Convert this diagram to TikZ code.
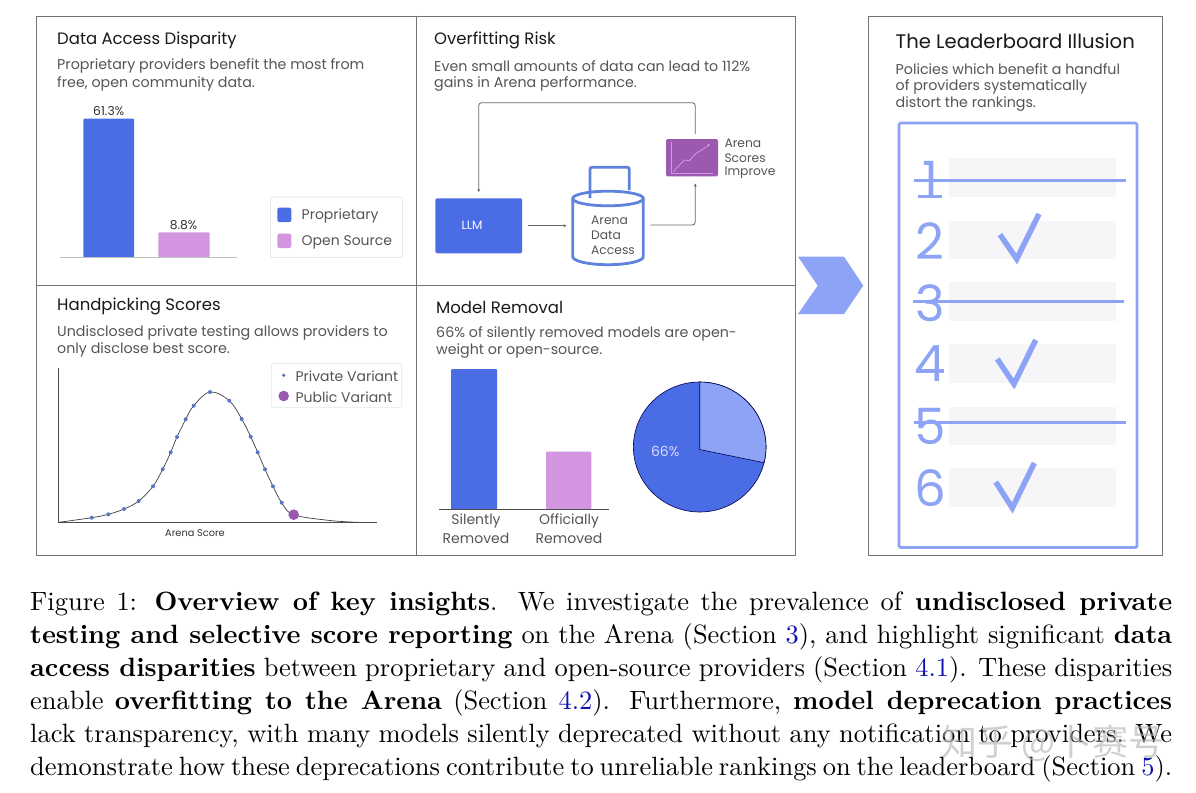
\documentclass[tikz,border=0pt]{standalone}
\usepackage{fontspec}
\setsansfont{Poppins}
\newfontfamily\capf{lmroman10-regular.otf}[BoldFont=lmroman10-bold.otf]
\newfontfamily\cjkf{Noto Sans CJK SC}
\usetikzlibrary{arrows.meta}
\definecolor{bluea}{HTML}{4A6DE5}
\definecolor{blueb}{HTML}{8DA3F5}
\definecolor{bluec}{HTML}{5F82DC}
\definecolor{pinka}{HTML}{D394E0}
\definecolor{purpa}{HTML}{9B59B0}
\definecolor{dotc}{HTML}{5B74C8}
\definecolor{graytxt}{HTML}{555555}
\definecolor{rowg}{HTML}{F6F6F8}
\definecolor{secblue}{HTML}{1010B0}
\tikzset{
  x=1pt,y=-1pt,
  panel/.style={draw=black!55,line width=.8pt},
  ttl/.style={anchor=west,inner sep=0pt,yshift=-1.5pt,font=\sffamily\fontsize{16.5}{18}\selectfont,text=black!90},
  sub/.style={anchor=west,inner sep=0pt,yshift=-1.5pt,font=\sffamily\fontsize{14.25}{17}\selectfont,text=graytxt},
  lab/.style={inner sep=0pt,yshift=-1.2pt,font=\sffamily\fontsize{14}{17}\selectfont,text=graytxt},
  small/.style={inner sep=0pt,yshift=-1pt,font=\sffamily\fontsize{12.3}{15}\selectfont,text=black!80},
  legbox/.style={draw=black!12,line width=.6pt,rounded corners=2pt},
  conn/.style={draw=black!60,line width=.8pt,rounded corners=3pt},
  tip/.style={-{Latex[length=3pt,width=3pt]}},
  row/.style={fill=rowg},
  strike/.style={draw=blueb,line width=3pt},
  chk/.style={draw=blueb,line width=5.5pt,line join=miter},
  num/.style={inner sep=0pt,font=\sffamily\fontsize{50}{50}\selectfont,text=blueb},
  captxt/.style={anchor=base west,inner sep=0pt,font=\capf\fontsize{26.45}{33}\selectfont,text=black}
}
\newcommand{\capline}[1]{\makebox[1142pt][s]{#1}}
\begin{document}
\begin{tikzpicture}
\useasboundingbox[fill=white] (0,0) rectangle (1196,792);
% panels
\draw[panel] (36.5,16) rectangle (795.5,555);
\draw[panel] (416,16) -- (416,555);
\draw[panel] (36.5,285) -- (795.5,285);
\draw[panel] (868,16) rectangle (1162,555);
% chevron
\fill[blueb] (798,256.7) -- (844,256.7) -- (863.3,285.6) -- (844,314) -- (798,314) -- (817.7,285.6) -- cycle;
% Panel 1
\node[ttl] (t1) at (57,39) {Data Access Disparity};
\node[sub] (s1a) at (57,64.5) {Proprietary providers benefit the most from};
\node[sub] (s1b) at (57,82) {free, open community data.};
\fill[bluea,rounded corners=1pt] (83.3,118.7) rectangle (134,257.3);
\fill[pinka,rounded corners=1pt] (158.3,232.3) rectangle (209.7,257.3);
\draw[black!25,line width=.6pt] (60,257.3) -- (236.7,257.3);
\node[small] (v1) at (108.7,110.5) {61.3\%};
\node[small] (v2) at (183.5,224.5) {8.8\%};
\draw[legbox] (270.3,197) rectangle (402.3,257.3);
\fill[bluea,rounded corners=2pt] (277.3,207.7) rectangle (291.3,222);
\fill[pinka,rounded corners=2pt] (277.3,233.7) rectangle (291.3,248);
\node[lab,anchor=west] (l1) at (301.5,214.7) {Proprietary};
\node[lab,anchor=west] (l2) at (301.5,241) {Open Source};
% Panel 2
\node[ttl] (t2) at (434,39) {Overfitting Risk};
\node[sub] (s2a) at (434,64.5) {Even small amounts of data can lead to 112\%};
\node[sub] (s2b) at (434,82) {gains in Arena performance.};
\node[fill=bluea,rounded corners=1.5pt,minimum width=86.7pt,minimum height=55pt,inner sep=0pt] (llm) at (478.7,225.8) {};
\node[inner sep=0pt,text=white,font=\sffamily\fontsize{12}{15}\selectfont] (llmt) at (472,225.7) {LLM};
% cylinder
\draw[bluec,line width=2.8pt,fill=white] (572.7,198.5) -- (572.7,256.7) arc[start angle=180,end angle=360,x radius=35.3,y radius=-8] -- (643.3,198.5);
\draw[bluec,line width=2.8pt] (608,198.5) ellipse[x radius=35.3,y radius=7.3];
\draw[bluec,line width=2.8pt,rounded corners=2pt] (590,198) -- (590,167.3) -- (629.3,167.3) -- (629.3,190);
\node[small,anchor=west,text=graytxt] (c1) at (591,219.3) {Arena};
\node[small,anchor=west,text=graytxt] (c2) at (591,234.7) {Data};
\node[small,anchor=west,text=graytxt] (c3) at (591,249.7) {Access};
% chart
\node[fill=purpa,rounded corners=1.5pt,minimum width=52pt,minimum height=37.3pt,inner sep=0pt] (chart) at (692,157.7) {};
\draw[pinka,line width=.7pt] (671,141.7) -- (671,173.3) -- (712.7,173.3);
\draw[pinka,line width=.9pt] (673.3,171.7) -- (684.3,160) -- (689.3,160.7) -- (696,153.3) -- (702.7,149.3) -- (708.7,145);
\fill[pinka!60!white] (708.7,145) circle (1pt);
\node[small,anchor=west,text=graytxt] (a1) at (724.3,142.3) {Arena};
\node[small,anchor=west,text=graytxt] (a2) at (724.3,157.7) {Scores};
\node[small,anchor=west,text=graytxt] (a3) at (724.3,172.3) {Improve};
\coordinate (e1) at (528.3,225.7);
\coordinate (e2) at (566.7,225.7);
\coordinate (e3) at (650.3,225);
\coordinate (e4) at (695.3,183.3);
\coordinate (e5) at (695.3,134);
\coordinate (e6) at (478.7,192.3);
\draw[conn,tip] (e1) -- (e2);
\draw[conn,tip] (e3) -| (e4);
\draw[conn,tip] (e5) |- (587,102.7) -| (e6);
% Panel 3
\node[ttl] (t3) at (57,305) {Handpicking Scores};
\node[sub] (s3a) at (57,331) {Undisclosed private testing allows providers to};
\node[sub] (s3b) at (57,348.3) {only disclose best score.};
\draw[black!70,line width=.8pt] (58.7,368.3) -- (58.7,522.3) -- (376.7,522.3);
\draw[black!75,line width=.7pt] plot[smooth,tension=.6] coordinates {(58.7,522.3)(91.7,517.7)(108.3,514.3)(124,509)(138.7,501)(153,486.3)(162.7,469.3)(170.7,452.3)(177,437)(185.7,419.3)(193.7,405.7)(210,392)(229.3,400.7)(241.7,419)(250.7,436.7)(257.7,452.3)(265,469.3)(273,486.3)(281.7,502.7)(293.7,514.7)(330,520.5)(358,522.3)};
\foreach \p in {(91.7,517.7),(108.3,514.3),(124,509),(138.7,501),(153,486.3),(162.7,469.3),(170.7,452.3),(177,437),(185.7,419.3),(193.7,405.7),(210,392),(229.3,400.7),(241.7,419),(250.7,436.7),(257.7,452.3),(265,469.3),(273,486.3),(281.7,502.7)}
  \fill[dotc] \p circle (2pt);
\fill[purpa] (293.7,514.7) circle (5.3pt);
\node[small,font=\sffamily\fontsize{9.8}{12}\selectfont] (as) at (195,532.3) {Arena Score};
\draw[legbox,draw=black!10] (271.3,363.3) rectangle (401.7,407.3);
\fill[dotc] (283.7,375.3) circle (1.8pt);
\fill[purpa] (283.7,396) circle (5.3pt);
\node[lab,anchor=west] (p1) at (295.3,375.3) {Private Variant};
\node[lab,anchor=west] (p2) at (295.3,396) {Public Variant};
% Panel 4
\node[ttl] (t4) at (436,306) {Model Removal};
\node[sub] (s4a) at (436,332.3) {66\% of silently removed models are open-};
\node[sub] (s4b) at (436,349.7) {weight or open-source.};
\fill[bluea,rounded corners=1pt] (451,369) rectangle (497,509.3);
\fill[pinka,rounded corners=1pt] (546,451.7) rectangle (591.3,509.3);
\draw[black!70,line width=.7pt] (439.3,509.3) -- (609.3,509.3);
\node[lab] (b1) at (476,520) {Silently};
\node[lab] (b2) at (476,537) {Removed};
\node[lab] (b3) at (569,520) {Officially};
\node[lab] (b4) at (569,537) {Removed};
\draw[fill=bluea,draw=black!70!blue,line width=.6pt] (699.7,447) ellipse[x radius=66.3,y radius=65];
\draw[fill=blueb,draw=black!70!blue,line width=.6pt] (699.7,449.5) -- (699.7,382) arc[start angle=-90,end angle=14,x radius=66.3,y radius=65] -- cycle;
\node[inner sep=0pt,text=white!85!blue,font=\sffamily\fontsize{14}{17}\selectfont] (pct) at (665.3,451.7) {66\%};
% Right panel
\node[ttl,font=\sffamily\fontsize{19.6}{20}\selectfont] (t5) at (895.5,40) {The Leaderboard Illusion};
\node[sub] (s5a) at (895.5,67.5) {Policies which benefit a handful};
\node[sub] (s5b) at (895.5,85) {of providers systematically};
\node[sub] (s5c) at (895.5,102.5) {distort the rankings.};
\draw[blueb,line width=2.8pt,rounded corners=1.5pt] (899,123) rectangle (1137,547.5);
\foreach \a/\b in {158.4/197,220.5/259,282/321,344/383,406.5/445,468/506.5}
  \fill[row] (949,\a) rectangle (1116,\b);
\node[num] (n1) at (930,179) {1};
\draw[blueb,line width=3pt] (918,196) -- (942,196);
\node[num] (n2) at (930,241) {2};
\node[num] (n3) at (930,303) {3};
\node[num] (n4) at (930,364) {4};
\node[num] (n5) at (930,426) {5};
\node[num] (n6) at (930,488) {6};
\draw[strike] (914,180) -- (1125.7,180);
\draw[strike] (913,301) -- (1124,301);
\draw[strike] (914,422) -- (1125.7,422);
\draw[chk] (1000,234.6) -- (1016.7,259) -- (1039,214);
\draw[chk] (997.3,359) -- (1014,384) -- (1035.7,340);
\draw[chk] (995.7,482) -- (1012.3,508) -- (1034.3,463);
% Caption
\node[captxt] (c1l) at (30,610) {\capline{Figure 1: \textbf{Overview of key insights}. We investigate the prevalence of \textbf{undisclosed private}}};
\node[captxt] (c2l) at (30,643) {\capline{\textbf{testing and selective score reporting} on the Arena (Section \textcolor{secblue}{3}), and highlight significant \textbf{data}}};
\node[captxt] (c3l) at (30,676) {\capline{\textbf{access disparities} between proprietary and open-source providers (Section \textcolor{secblue}{4.1}). These disparities}};
\node[captxt] (c4l) at (30,709) {\capline{enable \textbf{overfitting to the Arena} (Section \textcolor{secblue}{4.2}). Furthermore, \textbf{model deprecation practices}}};
\node[captxt] (c5l) at (30,742) {\capline{lack transparency, with many models silently deprecated without any notification to providers. We}};
\node[captxt] (c6l) at (30,775) {\capline{demonstrate how these deprecations contribute to unreliable rankings on the leaderboard (Section \textcolor{secblue}{5}).}};
\node[inner sep=0pt,text=black!30,opacity=.6,font=\cjkf\fontsize{36}{38}\selectfont] (wm) at (1053,743) {知乎 @卜赛号};
\end{tikzpicture}
\end{document}
